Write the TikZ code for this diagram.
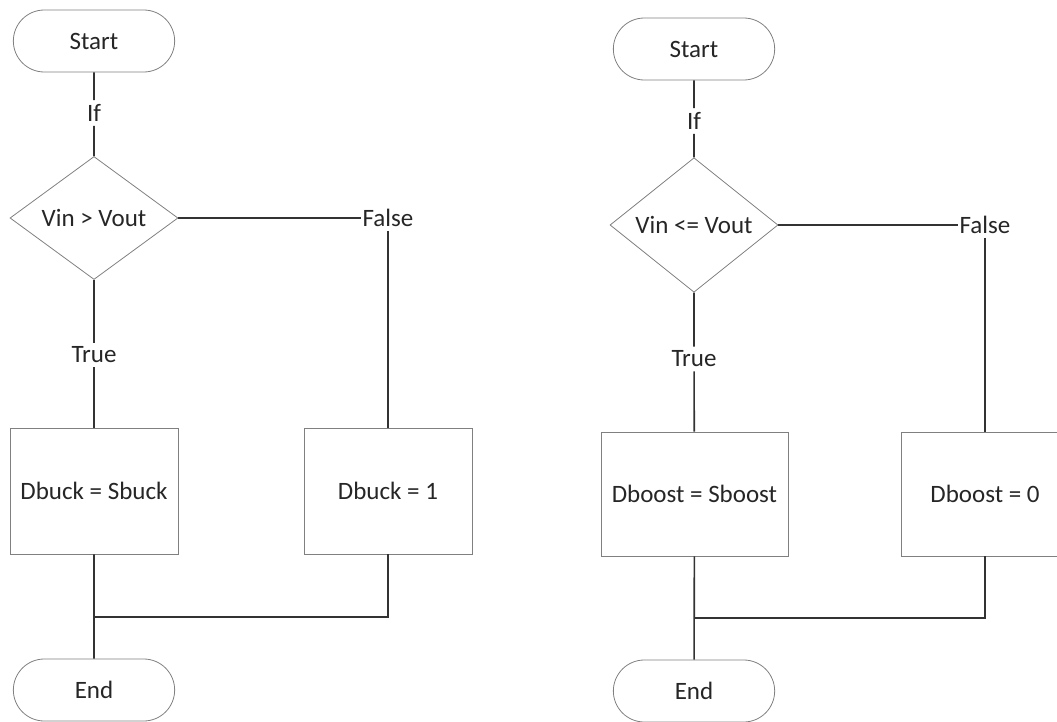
\documentclass[tikz,border=0pt]{standalone}
\usepackage{fontspec}
\setmainfont{Carlito}
\usetikzlibrary{shapes.geometric,shapes.misc}

\begin{document}
\begin{tikzpicture}[x=1pt,y=-1pt,
  font=\fontsize{25}{30}\selectfont, text=black!85,
  term/.style={rounded rectangle,draw=black!50,line width=0.8pt,minimum width=168pt,minimum height=62pt},
  cond/.style={diamond,draw=black!50,line width=0.8pt,minimum width=168pt,minimum height=123pt,inner sep=0pt},
  proc/.style={rectangle,draw=black!50,line width=0.8pt},
  lab/.style={inner xsep=1pt,inner ysep=4pt},
  wire/.style={draw=black!80,line width=1.6pt}]
\useasboundingbox (0,0) rectangle (1057,722);

%左边流程图 Buck
\node[term] (start1) at (94,41) {Start};
\node[lab] (if1) at (94,113) {If};
\node[cond] (cond1) at (94,218) {Vin > Vout};
\node[lab] (true1) at (94,355) {True};
\node[lab] (false1) at (388,218) {False};
\node[proc,minimum width=168pt,minimum height=126pt] (buck1) at (94,491) {Dbuck = Sbuck};
\node[proc,minimum width=168pt,minimum height=126pt] (buck2) at (388,491) {Dbuck = 1};
\node[term] (end1) at (94,690) {End};
\coordinate (join1) at (94,617);
%画出连线
\draw[wire] (start1) -- (if1) -- (cond1);
\draw[wire] (cond1) -- (true1) -- (buck1);
\draw[wire] (cond1) -- (false1) -- (buck2);
\draw[wire] (buck2) |- (join1);
\draw[wire] (buck1) -- (end1);

%右边流程图 Boost
\node[term] (start2) at (694,49) {Start};
\node[lab] (if2) at (694,121) {If};
\node[cond] (cond2) at (694,225) {Vin <= Vout};
\node[lab] (true2) at (694,359) {True};
\node[lab] (false2) at (985,225) {False};
\node[proc,minimum width=187pt,minimum height=124pt] (boost1) at (694.5,494) {Dboost = Sboost};
\node[proc,minimum width=168pt,minimum height=124pt] (boost2) at (985,494) {Dboost = 0};
\node[term] (end2) at (694,691) {End};
\coordinate (join2) at (694,618);
%画出连线
\draw[wire] (start2) -- (if2) -- (cond2);
\draw[wire] (cond2) -- (true2) -- (boost1);
\draw[wire] (cond2) -- (false2) -- (boost2);
\draw[wire] (boost2) |- (join2);
\draw[wire] (boost1) -- (end2);
\end{tikzpicture}
\end{document}
